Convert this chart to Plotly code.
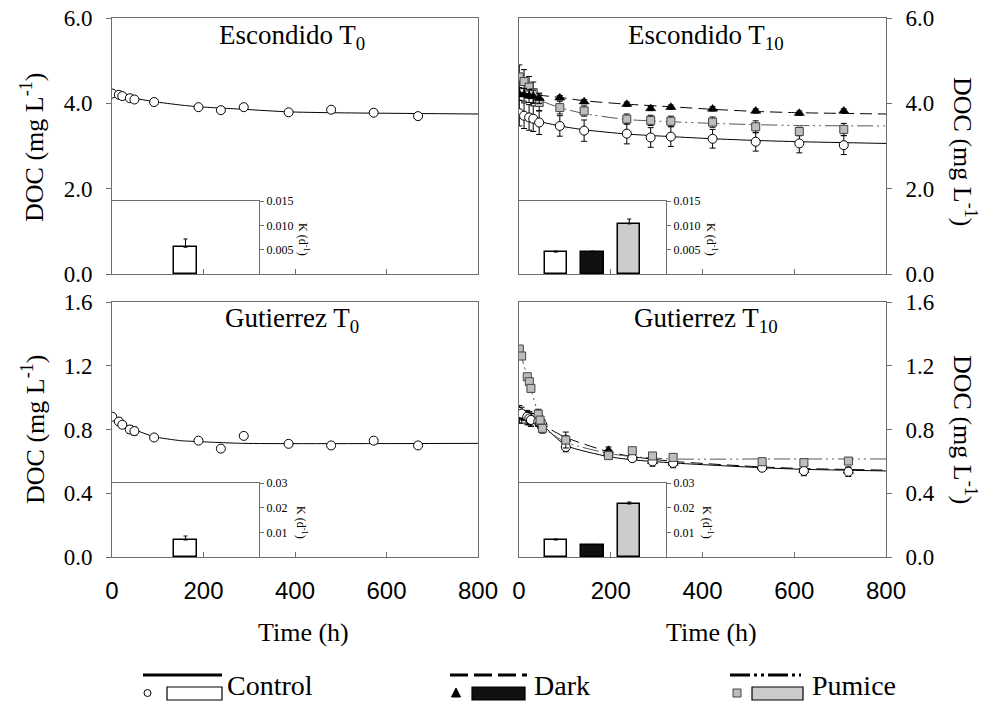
import plotly.graph_objects as go

W, H = 997, 704

# ------------------------------------------------------------------ data
# Escondido T0 / Gutierrez T0 (control only)
t_T0 = [0.5, 15, 22.5, 39, 49, 92, 189, 238, 288, 386, 479, 572, 669]
esc_T0_control = [4.23, 4.20, 4.17, 4.12, 4.09, 4.03, 3.91, 3.84, 3.91, 3.79, 3.85, 3.78, 3.70]
esc_T0_control_err = [0.03, 0.03, 0.03, 0.03, 0.03, 0.02, 0.02, 0.02, 0.02, 0.02, 0.02, 0.02, 0.02]
gut_T0_control = [0.88, 0.85, 0.83, 0.80, 0.79, 0.75, 0.73, 0.68, 0.76, 0.71, 0.70, 0.73, 0.70]
gut_T0_control_err = [0.02, 0.02, 0.02, 0.025, 0.025, 0.01, 0.01, 0.01, 0.01, 0.01, 0.01, 0.01, 0.01]

fit_t_esc_T0 = [0, 25, 49, 92, 150, 189, 288, 386, 479, 572, 800]
fit_esc_T0_control = [4.25, 4.18, 4.12, 4.04, 3.96, 3.92, 3.86, 3.80, 3.78, 3.77, 3.75]
fit_t_gut_T0 = [0, 25, 49, 92, 150, 189, 288, 800]
fit_gut_T0_control = [0.88, 0.84, 0.80, 0.755, 0.73, 0.724, 0.713, 0.713]

# Escondido T10
t_esc_T10 = [0.7, 11, 22, 31, 44, 89, 142, 235, 287, 331, 422, 516, 611, 708]
esc_T10_control = [3.77, 3.71, 3.67, 3.64, 3.55, 3.47, 3.36, 3.29, 3.20, 3.22, 3.17, 3.10, 3.06, 3.02]
esc_T10_control_err = [0.30, 0.30, 0.30, 0.30, 0.28, 0.24, 0.25, 0.24, 0.23, 0.23, 0.22, 0.22, 0.22, 0.22]
esc_T10_dark = [4.22, 4.20, 4.17, 4.16, 4.12, 4.13, 4.04, 3.98, 3.88, 3.91, 3.87, 3.82, 3.77, 3.82]
esc_T10_dark_err = [0.15, 0.15, 0.15, 0.15, 0.12, 0.05, 0.05, 0.05, 0.05, 0.05, 0.05, 0.05, 0.05, 0.05]
esc_T10_pumice = [4.62, 4.51, 4.38, 4.25, 4.02, 3.90, 3.82, 3.63, 3.60, 3.58, 3.56, 3.45, 3.34, 3.39]
esc_T10_pumice_err = [0.28, 0.28, 0.25, 0.25, 0.20, 0.15, 0.12, 0.12, 0.12, 0.12, 0.12, 0.14, 0.10, 0.14]

fit_t_esc_T10 = [0, 44, 89, 142, 235, 331, 422, 516, 611, 800]
fit_esc_T10_control = [3.78, 3.58, 3.47, 3.38, 3.28, 3.22, 3.17, 3.13, 3.10, 3.06]
fit_esc_T10_dark = [4.25, 4.19, 4.14, 4.06, 3.98, 3.92, 3.86, 3.81, 3.78, 3.75]
fit_esc_T10_pumice = [4.64, 4.09, 3.90, 3.76, 3.62, 3.57, 3.53, 3.50, 3.48, 3.47]

# Gutierrez T10
t_gut_T10 = [0.7, 5.8, 18, 22.5, 26, 42, 46, 51, 102, 195, 247, 291, 336, 530, 621, 718]
gut_T10_control = [0.91, 0.90, 0.88, 0.87, 0.86, 0.85, 0.84, 0.83, 0.69, 0.64, 0.62, 0.60, 0.59, 0.56, 0.54, 0.535]
gut_T10_control_err = [0.04, 0.04, 0.04, 0.04, 0.04, 0.03, 0.03, 0.03, 0.03, 0.02, 0.02, 0.03, 0.03, 0.02, 0.03, 0.03]
gut_T10_dark = [0.88, 0.88, 0.87, 0.87, 0.86, 0.85, 0.84, 0.83, 0.74, 0.67, 0.63, 0.60, 0.59, 0.565, 0.545, 0.54]
gut_T10_dark_err = [0.04, 0.04, 0.04, 0.04, 0.04, 0.03, 0.03, 0.03, 0.02, 0.02, 0.02, 0.02, 0.02, 0.02, 0.02, 0.02]
gut_T10_pumice = [1.305, 1.261, 1.131, 1.100, 1.058, 0.897, 0.859, 0.807, 0.734, 0.636, 0.667, 0.634, 0.625, 0.598, 0.592, 0.602]
gut_T10_pumice_err = [0.01, 0.01, 0.01, 0.01, 0.01, 0.03, 0.03, 0.03, 0.05, 0.02, 0.02, 0.02, 0.02, 0.02, 0.02, 0.02]

fit_t_gut_T10 = [0, 18, 26, 42, 51, 102, 195, 247, 336, 530, 621, 800]
fit_gut_T10_control = [0.91, 0.88, 0.87, 0.85, 0.83, 0.70, 0.63, 0.61, 0.59, 0.56, 0.55, 0.54]
fit_gut_T10_dark = [0.88, 0.87, 0.86, 0.85, 0.83, 0.75, 0.66, 0.63, 0.60, 0.565, 0.555, 0.545]
fit_gut_T10_pumice = [1.31, 1.13, 1.05, 0.90, 0.82, 0.72, 0.65, 0.63, 0.615, 0.615, 0.615, 0.615]

# Inset decay constants K (d^-1)
k_groups = ["Control", "Dark", "Pumice"]
k_pos_T10 = [1, 2, 3]
k_pos_T0 = [2]
k_esc_T0 = [0.0055]
k_esc_T0_err = [0.0017]
k_esc_T10 = [0.0045, 0.0045, 0.0103]
k_esc_T10_err = [0.0002, 0.0002, 0.0010]
k_gut_T0 = [0.0069]
k_gut_T0_err = [0.0016]
k_gut_T10 = [0.0069, 0.0049, 0.0215]
k_gut_T10_err = [0.0004, 0.0002, 0.0008]

x_ticks = [0, 200, 400, 600, 800]
esc_y_ticks = [0, 2, 4, 6]
gut_y_ticks = [0, 0.4, 0.8, 1.2, 1.6]
esc_k_ticks = [0.005, 0.010, 0.015]
gut_k_ticks = [0.01, 0.02, 0.03]

# ------------------------------------------------------------------ style
SERIF = "Liberation Serif, Times New Roman, serif"
SANS = "Liberation Sans, Arial, sans-serif"
AX = "#6e6e6e"
BAR_COLORS = {"Control": "white", "Dark": "#111111", "Pumice": "#cccccc"}
DARK_DASH = "12px,6px"
PUM_DASH = "16px,4px,2px,4px,2px,4px"


def px(x):
    return x / W


def py(y):
    return 1 - y / H


# panel pixel boxes
XL = (112, 478)
XR = (519, 886)
YT = (18, 274)
YB = (302, 557)
INS_W = 147
INS_T_TOP = 201
INS_B_TOP = 483

fig = go.Figure()


def points(t, y, err, kind, xa, ya):
    if kind == "Control":
        marker = dict(symbol="circle", size=9, color="white", line=dict(color="black", width=1))
    elif kind == "Dark":
        marker = dict(symbol="triangle-up", size=9, color="black", line=dict(color="black", width=0.5))
    else:
        marker = dict(symbol="square", size=8, color="#bdbdbd", line=dict(color="#444444", width=1))
    fig.add_trace(go.Scatter(
        x=t, y=y, mode="markers", marker=marker, xaxis=xa, yaxis=ya, showlegend=False,
        error_y=dict(type="data", array=err, visible=True, color="black", thickness=1, width=3),
    ))


def fit(t, y, kind, xa, ya):
    if kind == "Control":
        line = dict(color="black", width=1)
    elif kind == "Dark":
        line = dict(color="black", width=1, dash=DARK_DASH)
    else:
        line = dict(color="#555555", width=1, dash=PUM_DASH)
    fig.add_trace(go.Scatter(x=t, y=y, mode="lines", line=dict(shape="spline", smoothing=0.6, **line),
                             xaxis=xa, yaxis=ya, showlegend=False, hoverinfo="skip"))


def bars(pos, vals, errs, groups, xa, ya):
    fig.add_trace(go.Bar(
        x=pos, y=vals, width=0.6, xaxis=xa, yaxis=ya, showlegend=False,
        marker=dict(color=[BAR_COLORS[g] for g in groups], line=dict(color="black", width=1.5)),
        error_y=dict(type="data", symmetric=False, array=errs, arrayminus=[0] * len(errs),
                     color="black", thickness=1, width=2),
    ))


# Panel 1: Escondido T0
fit(fit_t_esc_T0, fit_esc_T0_control, "Control", "x", "y")
points(t_T0, esc_T0_control, esc_T0_control_err, "Control", "x", "y")

# Panel 2: Escondido T10
fit(fit_t_esc_T10, fit_esc_T10_control, "Control", "x2", "y2")
fit(fit_t_esc_T10, fit_esc_T10_dark, "Dark", "x2", "y2")
fit(fit_t_esc_T10, fit_esc_T10_pumice, "Pumice", "x2", "y2")
points(t_esc_T10, esc_T10_control, esc_T10_control_err, "Control", "x2", "y2")
points(t_esc_T10, esc_T10_pumice, esc_T10_pumice_err, "Pumice", "x2", "y2")
points(t_esc_T10, esc_T10_dark, esc_T10_dark_err, "Dark", "x2", "y2")

# Panel 3: Gutierrez T0
fit(fit_t_gut_T0, fit_gut_T0_control, "Control", "x3", "y3")
points(t_T0, gut_T0_control, gut_T0_control_err, "Control", "x3", "y3")

# Panel 4: Gutierrez T10
fit(fit_t_gut_T10, fit_gut_T10_control, "Control", "x4", "y4")
fit(fit_t_gut_T10, fit_gut_T10_dark, "Dark", "x4", "y4")
fit(fit_t_gut_T10, fit_gut_T10_pumice, "Pumice", "x4", "y4")
points(t_gut_T10, gut_T10_dark, gut_T10_dark_err, "Dark", "x4", "y4")
points(t_gut_T10, gut_T10_control, gut_T10_control_err, "Control", "x4", "y4")
points(t_gut_T10, gut_T10_pumice, gut_T10_pumice_err, "Pumice", "x4", "y4")

# Insets
bars(k_pos_T0, k_esc_T0, k_esc_T0_err, ["Control"], "x5", "y5")
bars(k_pos_T10, k_esc_T10, k_esc_T10_err, k_groups, "x6", "y6")
bars(k_pos_T0, k_gut_T0, k_gut_T0_err, ["Control"], "x7", "y7")
bars(k_pos_T10, k_gut_T10, k_gut_T10_err, k_groups, "x8", "y8")


def main_x(xb, yname, labels):
    return dict(domain=[px(xb[0]), px(xb[1])], anchor=yname, range=[0, 800], tickvals=x_ticks,
                ticks="inside", ticklen=5, tickcolor=AX, showline=True, linecolor=AX, linewidth=1,
                mirror=True, showgrid=False, zeroline=False, showticklabels=labels, automargin=False,
                tickfont=dict(family=SANS, size=24, color="black"), ticklabelstandoff=12)


def main_y(yb, xname, rng, tv, fmt, side):
    return dict(domain=[py(yb[1]), py(yb[0])], anchor=xname, range=rng, tickvals=tv,
                ticktext=[fmt.format(v) for v in tv], side=side, automargin=False,
                ticks="outside", ticklen=5, tickcolor=AX, showline=True, linecolor=AX, linewidth=1,
                mirror=True, showgrid=False, zeroline=False,
                tickfont=dict(family=SERIF, size=23, color="black"), ticklabelstandoff=9)


def ins_x(x0, yname):
    return dict(domain=[px(x0), px(x0 + INS_W)], anchor=yname, range=[0, 4], showticklabels=False,
                ticks="", showline=True, linecolor=AX, linewidth=1, mirror=True, automargin=False,
                showgrid=False, zeroline=False)


def ins_y(ytop, ybot, xname, rng, tv, fmt):
    return dict(domain=[py(ybot), py(ytop)], anchor=xname, range=rng, tickvals=tv,
                ticktext=[fmt.format(v) for v in tv], side="right", ticks="outside", ticklen=4,
                tickcolor=AX, showline=True, linecolor=AX, linewidth=1, mirror=True, automargin=False,
                showgrid=False, zeroline=False, tickfont=dict(family=SERIF, size=12, color="black"))


layout = dict(
    width=W, height=H, margin=dict(l=0, r=0, t=0, b=0, autoexpand=False),
    paper_bgcolor="white", plot_bgcolor="rgba(0,0,0,0)", showlegend=False, bargap=0,
    xaxis=main_x(XL, "y", False), yaxis=main_y(YT, "x", [0, 6], esc_y_ticks, "{:.1f}", "left"),
    xaxis2=main_x(XR, "y2", False), yaxis2=main_y(YT, "x2", [0, 6], esc_y_ticks, "{:.1f}", "right"),
    xaxis3=main_x(XL, "y3", True), yaxis3=main_y(YB, "x3", [0, 1.6], gut_y_ticks, "{:.1f}", "left"),
    xaxis4=main_x(XR, "y4", True), yaxis4=main_y(YB, "x4", [0, 1.6], gut_y_ticks, "{:.1f}", "right"),
    xaxis5=ins_x(XL[0], "y5"),
    yaxis5=ins_y(INS_T_TOP, YT[1], "x5", [0, 0.015], esc_k_ticks, "{:.3f}"),
    xaxis6=ins_x(XR[0], "y6"),
    yaxis6=ins_y(INS_T_TOP, YT[1], "x6", [0, 0.015], esc_k_ticks, "{:.3f}"),
    xaxis7=ins_x(XL[0], "y7"),
    yaxis7=ins_y(INS_B_TOP, YB[1], "x7", [0, 0.03], gut_k_ticks, "{:.2f}"),
    xaxis8=ins_x(XR[0], "y8"),
    yaxis8=ins_y(INS_B_TOP, YB[1], "x8", [0, 0.03], gut_k_ticks, "{:.2f}"),
)
fig.update_layout(**layout)

ann = []


def text(x, y, s, size, angle=0, family=SERIF, xanchor="center", yanchor="middle"):
    ann.append(dict(x=px(x), y=py(y), xref="paper", yref="paper", text=s, showarrow=False,
                    textangle=angle, xanchor=xanchor, yanchor=yanchor,
                    font=dict(family=family, size=size, color="black")))


# panel titles
text(292, 37, "Escondido T<sub>0</sub>", 27)
text(706, 37, "Escondido T<sub>10</sub>", 27)
text(292, 320, "Gutierrez T<sub>0</sub>", 27)
text(706, 320, "Gutierrez T<sub>10</sub>", 27)
# axis titles
ytitle = "DOC (mg L<sup>-1</sup>)"
text(33, 147, ytitle, 26, -90)
text(33, 429, ytitle, 26, -90)
text(965, 152, ytitle, 26, 90)
text(965, 430, ytitle, 26, 90)
text(303, 632, "Time (h)", 26)
text(711, 632, "Time (h)", 26)
# inset K titles
ktitle = "K (d<sup>-1</sup>)"
text(304, 239, ktitle, 12, 90)
text(712, 239, ktitle, 12, 90)
text(302, 522, ktitle, 12, 90)
text(708, 522, ktitle, 12, 90)
# legend texts (box bottom kept inside the page)
text(225, 703, "Control", 28, xanchor="left", yanchor="bottom")
text(532, 703, "Dark", 28, xanchor="left", yanchor="bottom")
text(810, 703, "Pumice", 28, xanchor="left", yanchor="bottom")
fig.update_layout(annotations=ann)

# legend graphics
shapes = []


def pline(x0, x1, y, dash):
    shapes.append(dict(type="line", xref="paper", yref="paper", x0=px(x0), x1=px(x1), y0=py(y), y1=py(y),
                       line=dict(color="black", width=3, dash=dash)))


def prect(x0, x1, y0, y1, fill, lw=1.2, lc="black"):
    shapes.append(dict(type="rect", xref="paper", yref="paper", x0=px(x0), x1=px(x1), y0=py(y1), y1=py(y0),
                       fillcolor=fill, line=dict(color=lc, width=lw)))


pline(143, 222, 675, "solid")
pline(450, 527, 675, "18px,6px")
pline(730, 801, 675, "20px,4px,3px,4px,3px,4px")
# control circle
shapes.append(dict(type="circle", xref="paper", yref="paper", x0=px(144), x1=px(151), y0=py(696.5), y1=py(689.5),
                   fillcolor="white", line=dict(color="black", width=1)))
prect(167, 222, 687, 700, "white")
# dark triangle
shapes.append(dict(type="path", xref="paper", yref="paper",
                   path="M {} {} L {} {} L {} {} Z".format(px(451.5), py(697), px(460.5), py(697), px(456), py(688)),
                   fillcolor="black", line=dict(color="black", width=1)))
prect(472, 525, 687, 700, "#111111")
# pumice square
prect(733, 741, 689, 697, "#bdbdbd", 1, "#444444")
prect(752, 803, 687, 700, "#cccccc")
fig.update_layout(shapes=shapes)

fig.write_html("out.html", config={"displayModeBar": False},
               post_script="document.body.style.margin='0px';document.body.style.overflow='hidden';")
